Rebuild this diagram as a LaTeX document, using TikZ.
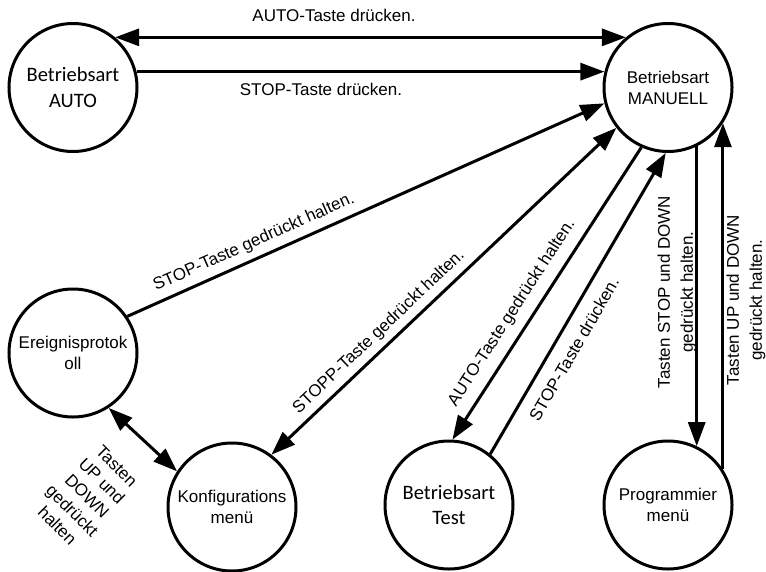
\documentclass[tikz,border=0pt]{standalone}
\usepackage{fontspec}
\setmainfont{Liberation Sans}
\newfontfamily\calibri{Carlito}
\usetikzlibrary{arrows.meta}

\begin{document}
\begin{tikzpicture}[x=1pt,y=-1pt,
  state/.style={draw,circle,line width=3pt,minimum size=128pt,inner sep=0pt,align=center,font=\fontsize{17}{21}\selectfont},
  wide/.style={font=\calibri\fontsize{20.5}{25.5}\selectfont},
  trans/.style={line width=3pt,-{Triangle[length=24pt,width=17pt]}},
  twoway/.style={line width=3pt,{Triangle[length=24pt,width=17pt]}-{Triangle[length=24pt,width=17pt]}},
  lbl/.style={inner sep=0pt,align=center,font=\fontsize{17}{21}\selectfont}]
\useasboundingbox (0,0) rectangle (766,571);

% States
\node[state,wide] (auto) at (73,87.5) {Betriebsart\\AUTO};
\node[state] (manuell) at (668,87.5) {Betriebsart\\MANUELL};
\node[state] (protokoll) at (73,353) {Ereignisprotok\\oll};
\node[state] (konfig) at (232,507) {Konfigurations\\menü};
\node[state,wide] (test) at (449,505) {Betriebsart\\Test};
\node[state] (prog) at (668,505) {Programmier\\menü};

% Transitions
\draw[twoway] (auto.50) -- (manuell.130);
\draw[trans] (auto.14) -- (manuell.166);
\draw[trans] (protokoll.34) -- (manuell.194);
\draw[twoway] (konfig.53) -- (manuell.218);
\draw[trans] (manuell.246) -- (test.87);
\draw[trans] (test.51) -- (manuell.268);
\draw[trans] (manuell.296) -- (prog.64);
\draw[trans] (prog.33) -- (manuell.327);
\draw[twoway] (protokoll.303) -- (konfig.147);

% Labels
\node[lbl] at (334,15) {AUTO-Taste drücken.};
\node[lbl] at (321,89) {STOP-Taste drücken.};
\node[lbl,rotate=24] at (254,242.5) {STOP-Taste gedrückt halten.};
\node[lbl,rotate=43.5] at (379,332) {STOPP-Taste gedrückt halten.};
\node[lbl,rotate=57] at (512,313) {AUTO-Taste gedrückt halten.};
\node[lbl,rotate=60] at (574,349) {STOP-Taste drücken.};
\node[lbl,rotate=90,font=\fontsize{17}{23}\selectfont] at (677,292) {Tasten STOP und DOWN\\gedrückt halten.};
\node[lbl,rotate=90,font=\fontsize{17}{23}\selectfont] at (746,300) {Tasten UP und DOWN\\gedrückt halten.};
\node[lbl,rotate=-45] at (87,496) {Tasten\\UP und\\DOWN\\gedrückt\\halten};
\end{tikzpicture}
\end{document}
